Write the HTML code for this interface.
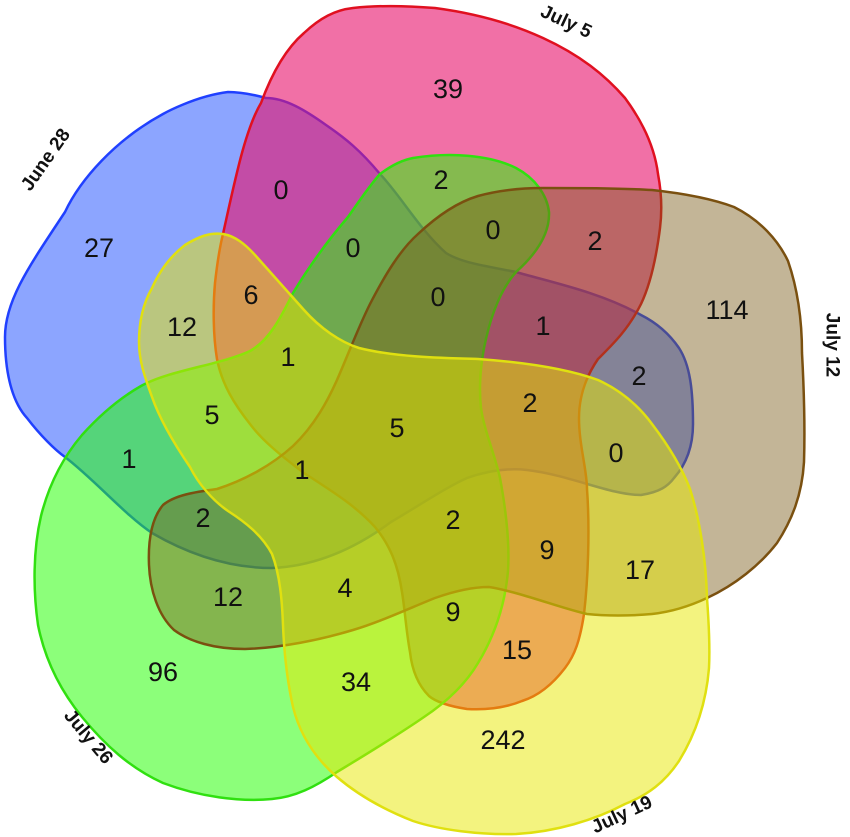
<!DOCTYPE html>
<html><head><meta charset="utf-8"><style>
html,body{margin:0;padding:0;background:#fff}
svg{display:block}
text{font-family:"Liberation Sans",Arial,sans-serif}
.n{font-size:27px;fill:#111;text-anchor:middle;dominant-baseline:central}
.l{font-size:19px;font-weight:bold;fill:#111;text-anchor:middle;dominant-baseline:central}
</style></head><body>
<svg width="850" height="837" viewBox="0 0 850 837" xmlns="http://www.w3.org/2000/svg">
<g stroke-width="2.5" stroke-linejoin="round">
<path fill="#1a4cff" fill-opacity="0.5" stroke="#2040ff" d="M228,92 C195,96 163,114 163,114 C115,140 80,180 65,212 C30,265 5,300 5,337 C5,380 15,405 27,418 C40,435 55,450 65,457 C95,480 125,515 152,533 C190,555 230,568 272,568 C320,566 360,545 391,522 C420,505 445,488 467,478 C490,470 510,468 527,470 C570,475 610,495 641,495 C660,492 668,486 674,478 C690,460 693,440 693,424 C693,390 690,365 679,348 C668,332 655,322 641,315 C600,292 550,282 516,272 C480,265 460,262 446,253 C420,230 400,195 380,174 C360,150 345,138 326,125 C305,110 285,98 266,98 C255,95 240,92 228,92 Z"/>
<path fill="#e8106a" fill-opacity="0.6" stroke="#e01020" d="M223,234 C235,180 245,130 261,103 C275,65 290,45 304,33 C320,18 335,10 353,8 C380,5 410,6 435,8 C480,14 515,25 543,38 C580,55 605,75 625,98 C645,125 655,150 658,174 C662,195 662,212 660,228 C656,260 650,285 641,304 C628,330 612,345 598,359 C585,378 579,398 579,418 C579,445 587,470 587,489 C590,530 588,580 584,614 C580,640 575,655 565,668 C552,685 538,696 522,701 C505,708 485,710 467,709 C448,706 436,702 429,696 C418,685 412,670 410,652 C406,630 405,610 402,592 C398,565 390,545 375,527 C355,505 330,490 304,473 C280,455 262,440 250,424 C235,405 222,385 217,359 C213,335 213,305 215,283 C217,265 219,250 223,234 Z"/>
<path fill="#22ff00" fill-opacity="0.52" stroke="#30e010" d="M413,158 C450,152 490,155 516,168 C535,178 547,195 549,212 C550,235 535,255 516,272 C500,290 490,318 484,348 C480,370 479,390 481,408 C484,430 495,455 500,478 C505,505 510,540 508,571 C505,605 495,635 478,663 C465,685 445,703 424,717 C395,737 365,755 337,772 C315,787 295,797 272,799 C240,802 200,797 163,783 C130,768 105,745 82,717 C60,690 45,660 38,625 C33,590 33,550 41,516 C50,480 65,455 82,435 C100,415 120,398 141,386 C170,370 220,365 250,351 C270,340 282,315 293,293 C310,265 330,238 348,217 C360,200 370,185 380,174 C392,165 402,160 413,158 Z"/>
<path fill="#7a5a18" fill-opacity="0.45" stroke="#7a5010" d="M478,196 C500,190 520,188 543,188 C580,188 620,188 652,190 C680,193 710,198 734,207 C760,220 778,240 788,261 C798,290 802,320 802,353 C804,390 805,430 804,462 C802,495 792,520 777,543 C760,565 735,585 707,598 C690,606 670,612 652,614 C630,616 605,616 587,614 C560,608 520,592 489,587 C470,587 452,592 435,598 C410,608 380,622 353,630 C320,640 280,648 245,649 C215,649 190,642 174,630 C158,615 150,590 149,565 C148,540 152,518 163,505 C175,495 195,492 217,489 C245,480 272,465 293,446 C315,425 328,400 337,380 C348,355 358,328 370,304 C385,275 400,250 418,234 C435,218 455,203 478,196 Z"/>
<path fill="#e8e800" fill-opacity="0.5" stroke="#e0e010" d="M223,234 C235,236 245,244 255,255 C270,272 288,292 304,310 C320,328 340,342 359,348 C395,357 440,358 478,359 C520,362 565,368 598,380 C620,390 638,405 652,424 C668,445 682,468 690,489 C700,520 706,560 707,598 C709,625 710,648 709,668 C706,705 695,735 679,761 C665,782 648,795 625,804 C595,820 555,832 516,834 C480,835 440,830 413,821 C385,810 358,795 337,777 C315,758 300,735 293,707 C287,680 284,650 283,625 C282,600 280,575 272,554 C262,535 245,522 228,511 C212,500 198,483 190,467 C175,445 160,420 152,397 C144,375 139,360 139,342 C139,320 144,302 152,288 C160,270 172,255 185,245 C198,237 210,232 223,234 Z"/>
</g>
<text class="n" x="448" y="89">39</text>
<text class="n" x="281" y="190">0</text>
<text class="n" x="441" y="180">2</text>
<text class="n" x="99" y="248">27</text>
<text class="n" x="353" y="248">0</text>
<text class="n" x="493" y="230">0</text>
<text class="n" x="595" y="241">2</text>
<text class="n" x="727" y="310">114</text>
<text class="n" x="251" y="295">6</text>
<text class="n" x="182" y="327">12</text>
<text class="n" x="438" y="297">0</text>
<text class="n" x="543" y="326">1</text>
<text class="n" x="288" y="357">1</text>
<text class="n" x="639" y="376">2</text>
<text class="n" x="212" y="415">5</text>
<text class="n" x="530" y="403">2</text>
<text class="n" x="397" y="428">5</text>
<text class="n" x="129" y="459">1</text>
<text class="n" x="616" y="453">0</text>
<text class="n" x="302" y="470">1</text>
<text class="n" x="203" y="518">2</text>
<text class="n" x="453" y="520">2</text>
<text class="n" x="547" y="550">9</text>
<text class="n" x="640" y="570">17</text>
<text class="n" x="228" y="597">12</text>
<text class="n" x="345" y="588">4</text>
<text class="n" x="453" y="612">9</text>
<text class="n" x="517" y="650">15</text>
<text class="n" x="163" y="672">96</text>
<text class="n" x="356" y="682">34</text>
<text class="n" x="503" y="740">242</text>
<text class="l" transform="translate(46,160) rotate(-55)">June 28</text>
<text class="l" transform="translate(566,22) rotate(25)">July 5</text>
<text class="l" transform="translate(832,345) rotate(90)">July 12</text>
<text class="l" transform="translate(88,737) rotate(50)">July 26</text>
<text class="l" transform="translate(622,815) rotate(-25)">July 19</text>
</svg>
</body></html>
